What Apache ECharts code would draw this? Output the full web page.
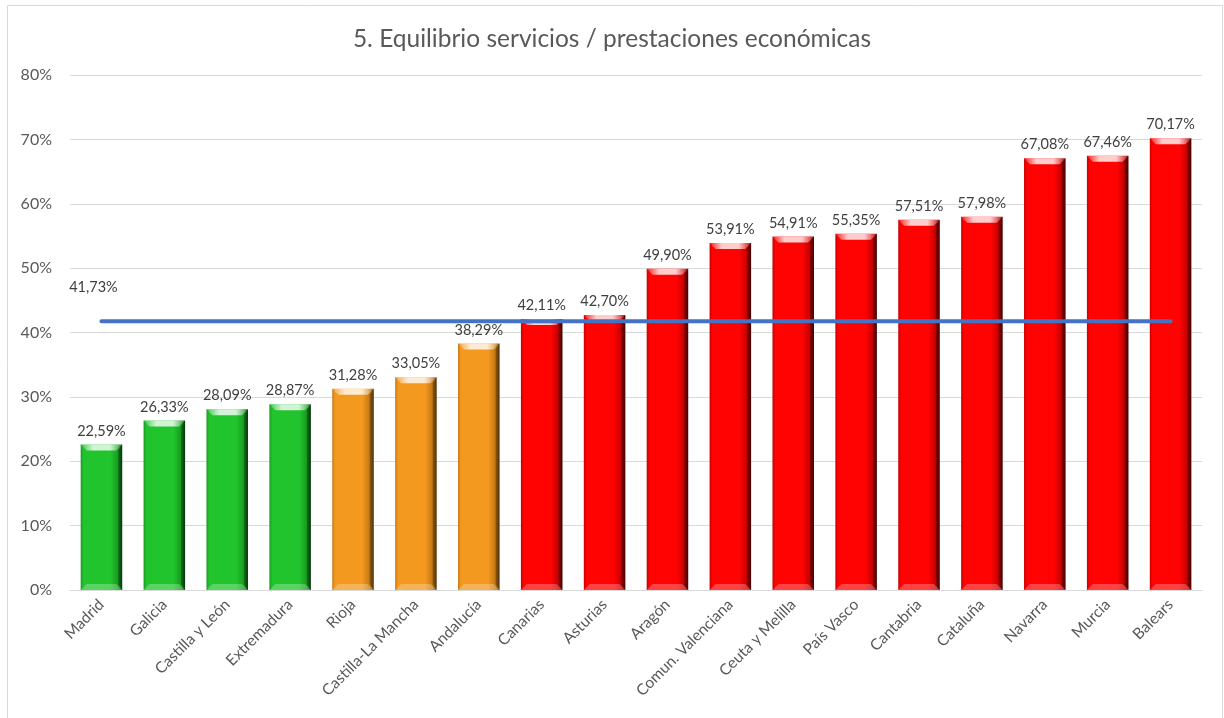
<!DOCTYPE html>
<html>
<head>
<meta charset="utf-8">
<script src="https://cdn.jsdelivr.net/npm/echarts@6/dist/echarts.min.js"></script>
<style>
  html, body { margin: 0; padding: 0; background: #fff; }
  #chart { width: 1224px; height: 718px; }
</style>
</head>
<body>
<div id="chart"></div>
<script>
const categories = ['Madrid', 'Galicia', 'Castilla y León', 'Extremadura', 'Rioja', 'Castilla-La Mancha',
  'Andalucía', 'Canarias', 'Asturias', 'Aragón', 'Comun. Valenciana', 'Ceuta y Melilla', 'País Vasco',
  'Cantabria', 'Cataluña', 'Navarra', 'Murcia', 'Balears'];
const values = [22.59, 26.33, 28.09, 28.87, 31.28, 33.05, 38.29, 42.11, 42.70, 49.90, 53.91, 54.91,
  55.35, 57.51, 57.98, 67.08, 67.46, 70.17];
const groups = ['green', 'green', 'green', 'green', 'orange', 'orange', 'orange', 'red', 'red', 'red',
  'red', 'red', 'red', 'red', 'red', 'red', 'red', 'red'];
const averageLine = [41.73, 41.73, 41.73, 41.73, 41.73, 41.73, 41.73, 41.73, 41.73, 41.73, 41.73, 41.73,
  41.73, 41.73, 41.73, 41.73, 41.73, 41.73];
const yTicks = [0, 10, 20, 30, 40, 50, 60, 70, 80];

const palettes = {
  green: { main: '#22c42e', edge: '#1a9a23', dark: '#0b4a0e', shade: '#179b20' },
  orange: { main: '#f4991f', edge: '#c77a14', dark: '#6e440c', shade: '#c27815' },
  red: { main: '#ff0303', edge: '#c90000', dark: '#5e0000', shade: '#c40000' }
};

const FONT = 'Lato, "Open Sans", sans-serif';
const pct = v => v.toFixed(2).replace('.', ',') + '%';

// bevelled bar, positions come from the axes via api.coord / api.size
function renderBar(params, api) {
  const idx = api.value(0);
  const val = api.value(1);
  const top = api.coord([idx, val]);
  const base = api.coord([idx, 0]);
  const w = api.size([1, 0])[0] * 0.66;
  const x0 = top[0] - w / 2, x1 = top[0] + w / 2;
  const y0 = top[1], y1 = base[1];
  const p = palettes[groups[params.dataIndex]];
  const b = 6;
  const hGrad = new echarts.graphic.LinearGradient(0, 0, 1, 0, [
    { offset: 0, color: p.edge },
    { offset: 0.07, color: p.main },
    { offset: 0.72, color: p.main },
    { offset: 0.9, color: p.shade },
    { offset: 1, color: p.dark }
  ]);
  return {
    type: 'group',
    children: [
      { type: 'rect', shape: { x: x0, y: y0, width: w, height: y1 - y0 }, style: { fill: hGrad } },
      {
        type: 'polygon',
        shape: { points: [[x0, y0], [x1, y0], [x1 - b, y0 + b], [x0 + b, y0 + b]] },
        style: {
          fill: new echarts.graphic.LinearGradient(0, 0, 1, 0, [
            { offset: 0, color: 'rgba(255,255,255,0.1)' },
            { offset: 0.3, color: 'rgba(255,255,255,0.8)' },
            { offset: 0.7, color: 'rgba(255,255,255,0.8)' },
            { offset: 1, color: 'rgba(255,255,255,0.1)' }
          ])
        }
      },
      {
        type: 'polygon',
        shape: { points: [[x0, y1], [x1, y1], [x1 - b, y1 - b], [x0 + b, y1 - b]] },
        style: { fill: 'rgba(255,255,255,0.25)' }
      },
      {
        type: 'polygon',
        shape: { points: [[x1, y0], [x1, y1], [x1 - 4, y1 - b], [x1 - 4, y0 + b]] },
        style: { fill: 'rgba(0,0,0,0.25)' }
      },
      {
        type: 'text',
        style: {
          text: pct(val), x: top[0], y: y0 - 6, textAlign: 'center', textVerticalAlign: 'bottom',
          fill: '#404040', font: '14.5px ' + FONT
        }
      }
    ]
  };
}

const chart = echarts.init(document.getElementById('chart'));
chart.setOption({
  animation: false,
  backgroundColor: '#fff',
  textStyle: { fontFamily: FONT },
  title: {
    text: '5. Equilibrio servicios / prestaciones económicas',
    left: 'center',
    top: 22,
    textStyle: { fontSize: 24.5, fontWeight: 'normal', color: '#595959', fontFamily: FONT }
  },
  graphic: [{
    type: 'rect',
    shape: { x: 7.5, y: 5.5, width: 1215, height: 720 },
    style: { fill: 'none', stroke: '#d9d9d9', lineWidth: 1 },
    silent: true
  }],
  grid: { left: 70, right: 22, top: 75, bottom: 128 },
  xAxis: {
    type: 'category',
    data: categories,
    axisLine: { lineStyle: { color: '#d9d9d9' } },
    axisTick: { show: false },
    axisLabel: { rotate: 45, color: '#595959', fontSize: 15.5, margin: 12, interval: 0 }
  },
  yAxis: {
    type: 'value',
    min: yTicks[0],
    max: yTicks[yTicks.length - 1],
    interval: 10,
    axisLine: { show: false },
    axisTick: { show: false },
    axisLabel: { formatter: '{value}%', color: '#595959', fontSize: 16, margin: 18 },
    splitLine: { lineStyle: { color: '#d9d9d9' } }
  },
  series: [
    {
      type: 'custom',
      renderItem: renderBar,
      encode: { x: 0, y: 1 },
      data: values.map((v, i) => [i, v]),
      z: 2
    },
    {
      type: 'line',
      data: averageLine.map((v, i) => i === 0 ? {
        value: v,
        label: {
          show: true, position: 'top', distance: 26, offset: [-8, 0],
          formatter: p => pct(p.value), color: '#404040', fontSize: 14.5
        }
      } : v),
      symbol: 'circle',
      symbolSize: 1,
      showSymbol: true,
      itemStyle: { color: 'rgba(0,0,0,0)' },
      lineStyle: { color: '#4472c4', width: 4, cap: 'round' },
      z: 3
    }
  ]
});
</script>
</body>
</html>
